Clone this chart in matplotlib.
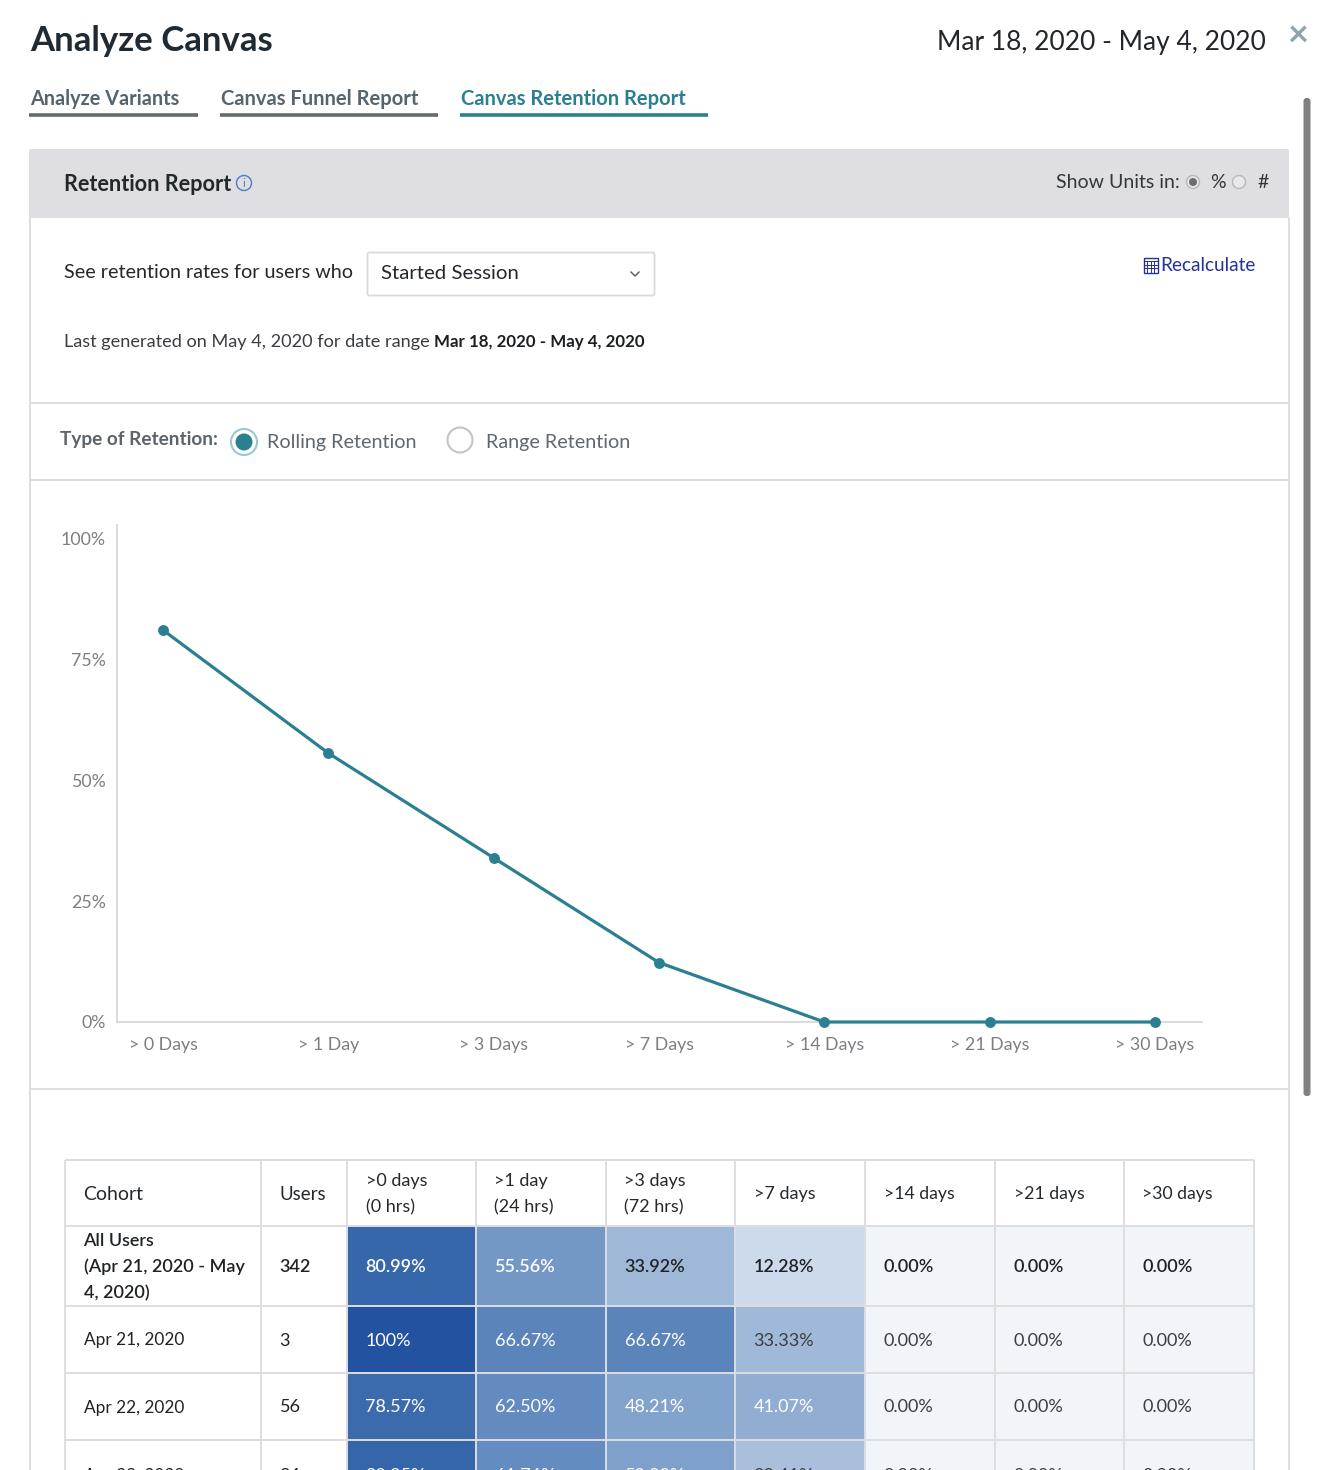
import matplotlib
matplotlib.use("Agg")
import matplotlib.pyplot as plt
from matplotlib.colors import LinearSegmentedColormap
from matplotlib.patches import Rectangle, Circle, FancyBboxPatch

plt.rcParams['font.family'] = ['Lato', 'DejaVu Sans']

# ---- data ----
day_labels = ['> 0 Days', '> 1 Day', '> 3 Days', '> 7 Days', '> 14 Days', '> 21 Days', '> 30 Days']
retention = [80.99, 55.56, 33.92, 12.28, 0, 0, 0]
y_ticks = [0, 25, 50, 75, 100]
y_tick_labels = ['0%', '25%', '50%', '75%', '100%']

col_headers = ['Cohort', 'Users', '>0 days\n(0 hrs)', '>1 day\n(24 hrs)', '>3 days\n(72 hrs)',
               '>7 days', '>14 days', '>21 days', '>30 days']
header_sizes = [14, 13.5, 13, 13, 13, 13, 12.7, 12.7, 12.7]
cohorts = ['All Users\n(Apr 21, 2020 - May\n4, 2020)', 'Apr 21, 2020', 'Apr 22, 2020', 'Apr 23, 2020']
users = ['342', '3', '56', '34']
row_all = [80.99, 55.56, 33.92, 12.28, 0, 0, 0]
row_apr21 = [100, 66.67, 66.67, 33.33, 0, 0, 0]
row_apr22 = [78.57, 62.50, 48.21, 41.07, 0, 0, 0]
row_apr23 = [82.35, 61.76, 50.00, 29.41, 0, 0, 0]
rows = [row_all, row_apr21, row_apr22, row_apr23]

W, H = 1329, 1470
fig = plt.figure(figsize=(W / 100, H / 100), dpi=100, facecolor='white')

# page overlay in pixel coordinates
ui = fig.add_axes([0, 0, 1, 1])
ui.set_xlim(0, W)
ui.set_ylim(H, 0)
ui.axis('off')

DARK = '#1f2a33'
TEXT = '#2b2f33'
TEAL = '#2a7f91'
LINE = '#dddde2'


def t(x, y, s, size=12.5, color=TEXT, weight='normal', ha='left', va='center', **kw):
    return ui.text(x, y + 1, s, fontsize=size, color=color, fontweight=weight, ha=ha, va=va, **kw)


def hline(x0, x1, y, color=LINE, lw=1.4):
    ui.plot([x0, x1], [y, y], color=color, lw=lw, solid_capstyle='butt')


def vline(x, y0, y1, color=LINE, lw=1.4):
    ui.plot([x, x], [y0, y1], color=color, lw=lw, solid_capstyle='butt')


def radio(x, y, r, edge, fill='white', dot=None, lw=1.3):
    ui.add_patch(Circle((x, y), r, fc=fill, ec=edge, lw=lw))
    if dot:
        ui.add_patch(Circle((x, y), r * 0.62, fc=dot, ec='none'))


# header
t(30, 40, 'Analyze Canvas', 25, DARK, 'bold')
t(1266, 41, 'Mar 18, 2020 - May 4, 2020', 19, '#22262a', ha='right')
t(1298, 34, '×', 26, '#8fa3ad', 'bold', ha='center')

# tabs
t(30, 98, 'Analyze Variants', 14.3, '#56646e', 'bold')
t(221, 98, 'Canvas Funnel Report', 14.5, '#56646e', 'bold')
t(461, 98, 'Canvas Retention Report', 14.5, TEAL, 'bold')
hline(29, 198, 115, '#62696f', 2.6)
hline(220, 438, 115, '#62696f', 2.6)
hline(460, 708, 115, TEAL, 2.6)

# scrollbar
ui.add_patch(FancyBboxPatch((1303.5, 98), 7, 998, boxstyle='round,pad=0,rounding_size=3',
                            fc='#808080', ec='none'))

# panel
vline(29.5, 218, H, LINE)
vline(1288.5, 218, H, LINE)
ui.add_patch(FancyBboxPatch((29, 149), 1260, 69, boxstyle='round,pad=0,rounding_size=2',
                            fc='#dedee3', ec='none'))
ui.add_patch(Rectangle((29, 210), 1260, 8, fc='#dedee3', ec='none'))
t(64, 183, 'Retention Report', 15.6, '#23282c', 'bold')
radio(244, 183, 7.5, '#4a7fc4', 'none', lw=1)
t(244, 182, 'i', 8.5, '#4a7fc4', ha='center')
t(1056, 181, 'Show Units in:', 14, '#33373b')
radio(1193, 182, 6.5, '#b8b8bc', '#e8e8ea', '#6e6e72', 1)
t(1210, 181, '%', 14, '#33373b')
radio(1239, 182, 6.5, '#b8b8bc', '#e8e8ea', None, 1)
t(1257, 181, '#', 14, '#33373b')

# control row
t(64, 271, 'See retention rates for users who', 14.25, '#23282c')
ui.add_patch(FancyBboxPatch((367.5, 252.5), 287, 43, boxstyle='round,pad=0,rounding_size=2',
                            fc='white', ec='#d9d9de', lw=1.3))
t(381, 272, 'Started Session', 14.7, '#23282c')
ui.plot([631, 635, 639], [272, 276, 272], color='#555', lw=1)
t(1160, 264, 'Recalculate', 13.7, '#26329a')
ui.add_patch(Rectangle((1143.5, 257.5), 14, 15, fc='none', ec='#26329a', lw=1))
for gx in (1147, 1150.5, 1154):
    ui.plot([gx, gx], [261, 272], color='#26329a', lw=0.7)
for gy in (261, 264.5, 268):
    ui.plot([1144, 1157], [gy, gy], color='#26329a', lw=0.7)
t(64, 341, 'Last generated on May 4, 2020 for date range', 13.05, '#3a3e42')
t(434, 341, 'Mar 18, 2020 - May 4, 2020', 12.2, '#1c1f22', 'bold')
hline(29, 1289, 403)
hline(29, 1289, 480)
hline(29, 1289, 1089)

# retention type row
t(60, 438, 'Type of Retention:', 13.7, '#5b646b', 'bold')
radio(244, 442, 13, '#9cc6cf', 'white', None, 1.5)
ui.add_patch(Circle((244, 442), 8.5, fc=TEAL, ec='none'))
t(267, 441, 'Rolling Retention', 14.2, '#5f686f')
radio(460, 440, 12.5, '#c4c8cb', 'white', None, 1.6)
t(486, 441, 'Range Retention', 14.2, '#5f686f')

# line chart
x0, x1, ytop, ybot = 117, 1202, 525, 1022
ax = fig.add_axes([x0 / W, 1 - ybot / H, (x1 - x0) / W, (ybot - ytop) / H], facecolor='none')
ax.plot(range(len(retention)), retention, color=TEAL, lw=2.3, marker='o', ms=6.8,
        clip_on=False, zorder=3)
ax.set_xlim(-0.278, 6.284)
ax.set_ylim(0, 102.7)
ax.set_xticks(range(len(day_labels)), day_labels)
ax.set_yticks(y_ticks, y_tick_labels)
ax.tick_params(length=0, labelsize=12.8, labelcolor='#7b7f83')
ax.tick_params(axis='x', pad=10.5)
ax.tick_params(axis='y', pad=8)
for s in ('top', 'right'):
    ax.spines[s].set_visible(False)
for s in ('left', 'bottom'):
    ax.spines[s].set_color('#d8d8dc')
    ax.spines[s].set_linewidth(1.3)

# table
col_edges = [65, 261, 347, 476, 606, 735, 865, 995, 1124, 1254]
row_edges = [1160, 1226, 1306, 1373, 1440, 1510]
cmap = LinearSegmentedColormap.from_list('ret', [
    (0.0, '#f1f4f9'), (0.1228, '#cddaeb'), (0.3392, '#a0b8d8'), (0.5556, '#7398c6'),
    (0.6667, '#5b84bb'), (0.81, '#3667ab'), (1.0, '#2353a0')])

for c, head in enumerate(col_headers):
    t(col_edges[c] + 18.5, (row_edges[0] + row_edges[1]) / 2, head, header_sizes[c], '#24282c',
      linespacing=1.75)

for r, vals in enumerate(rows):
    top, bot = row_edges[r + 1], row_edges[r + 2]
    ymid = (top + bot) / 2
    bold = r == 0
    weight = 'semibold' if bold else 'normal'
    t(col_edges[0] + 18.5, ymid, cohorts[r], 13 if bold else 12.4, '#1f2326', weight, linespacing=1.75)
    t(col_edges[1] + 18.5, ymid, users[r], 13, '#1f2326', weight)
    for c, v in enumerate(vals):
        xl, xr = col_edges[c + 2], col_edges[c + 3]
        ui.add_patch(Rectangle((xl, top), xr - xl, bot - top, fc=cmap(v / 100), ec='none', zorder=1))
        label = '100%' if v == 100 else f'{v:.2f}%'
        color = 'white' if v > 35 else ('#1f2326' if bold else '#3a3e42')
        t(xl + 18.5, ymid, label, 13, color, weight, zorder=3)

for x in col_edges:
    vline(x, row_edges[0], H, LINE)
    ui.lines[-1].set_zorder(2)
for y in row_edges[:-1]:
    hline(col_edges[0], col_edges[-1], y, LINE)
    ui.lines[-1].set_zorder(2)

fig.savefig('out.png', dpi=100, facecolor='white')
